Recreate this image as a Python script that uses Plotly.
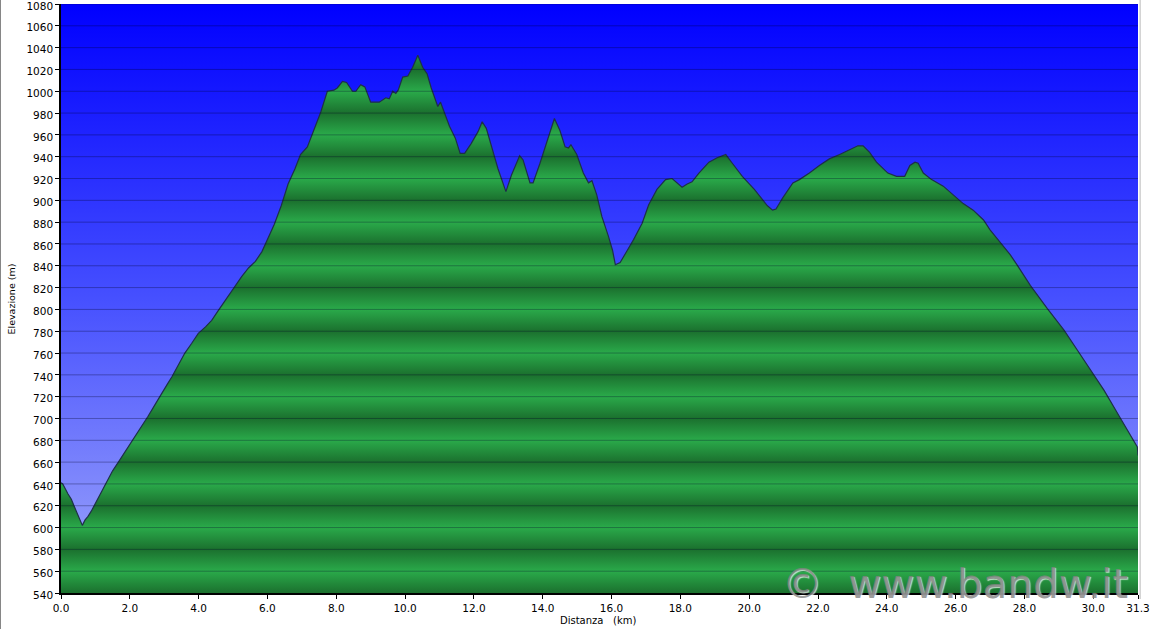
import plotly.graph_objects as go

# ---- data ----
KM = [0.0, 0.05, 0.2, 0.3, 0.39, 0.5, 0.62, 0.7, 0.78, 0.88, 0.98, 1.12, 1.25, 1.37, 1.5,
      1.71, 1.9, 2.15, 2.35, 2.53, 2.72, 2.92, 3.1, 3.22, 3.4, 3.6, 3.8, 3.99, 4.2, 4.38,
      4.55, 4.68, 4.9, 5.06, 5.25, 5.45, 5.65, 5.84, 6.04, 6.2, 6.4, 6.6, 6.8, 6.96, 7.16,
      7.35, 7.55, 7.74, 7.93, 8.03, 8.18, 8.3, 8.47, 8.57, 8.71, 8.83, 9.0, 9.25, 9.44,
      9.54, 9.64, 9.73, 9.8, 9.93, 10.08, 10.22, 10.37, 10.51, 10.64, 10.76, 10.85, 10.95,
      11.03, 11.13, 11.29, 11.46, 11.6, 11.73, 11.92, 12.12, 12.24, 12.36, 12.51, 12.7,
      12.93, 13.09, 13.33, 13.43, 13.63, 13.72, 13.92, 14.16, 14.34, 14.5, 14.65, 14.75,
      14.82, 14.99, 15.18, 15.33, 15.43, 15.57, 15.72, 15.91, 16.03, 16.11, 16.25, 16.4,
      16.64, 16.89, 17.08, 17.32, 17.57, 17.76, 18.05, 18.2, 18.34, 18.54, 18.83, 19.07,
      19.32, 19.51, 19.8, 20.15, 20.34, 20.53, 20.68, 20.78, 20.97, 21.27, 21.46, 21.75,
      22.04, 22.33, 22.63, 22.92, 23.16, 23.31, 23.5, 23.7, 23.89, 24.03, 24.28, 24.52,
      24.67, 24.82, 24.91, 25.06, 25.3, 25.64, 25.93, 26.22, 26.51, 26.81, 27.0, 27.3,
      27.59, 27.78, 28.17, 28.66, 29.15, 29.53, 29.92, 30.31, 30.7, 31.0, 31.28, 31.3]
ELEV = [641, 640, 631, 626, 619, 610, 602, 607, 610, 615, 621, 630, 638, 645, 652,
        662, 671, 683, 693, 702, 712, 723, 732, 738, 749, 760, 769, 778, 784, 790,
        798, 804, 814, 821, 830, 838, 844, 853, 867, 878, 895, 915, 929, 942, 949,
        964, 981, 1000, 1001, 1003, 1009, 1008, 1000, 1000, 1006, 1004, 990, 990, 994,
        993, 1000, 998, 1001, 1013, 1014, 1022, 1033, 1022, 1016, 1003, 994, 986,
        990, 981, 968, 957, 943, 943, 952, 963, 972, 966, 949, 929,
        908, 923, 941, 937, 916, 916, 934, 958, 975, 964, 949, 948,
        951, 942, 925, 916, 918, 905, 885, 867, 854, 841, 843, 851,
        864, 879, 896, 910, 919, 920, 912, 915, 917, 925, 935, 939,
        942, 934, 922, 910, 903, 895, 891, 892, 902, 916, 919, 925,
        932, 938, 942, 946, 950, 950, 944, 935, 929, 925, 922, 922,
        932, 935, 934, 925, 919, 913, 905, 897, 891, 882, 873, 861,
        850, 841, 822, 801, 781, 763, 744, 726, 705, 689, 674, 666]

X_RANGE = [0.0, 31.3]
Y_RANGE = [540, 1080]
X_TICKS = [0, 2, 4, 6, 8, 10, 12, 14, 16, 18, 20, 22, 24, 26, 28, 30, 31.3]
X_TICKTEXT = ["0.0", "2.0", "4.0", "6.0", "8.0", "10.0", "12.0", "14.0", "16.0", "18.0",
              "20.0", "22.0", "24.0", "26.0", "28.0", "30.0", "31.3"]
Y_TICKS = list(range(540, 1081, 20))
X_TITLE = "Distanza\u00a0\u00a0\u00a0(km)"
Y_TITLE = "Elevazione (m)"
WATERMARK = "©\u00a0\u00a0www.bandw.it"

FONT = "DejaVu Sans, Verdana, sans-serif"

# striped green colorscale (period 40 m: dark / light alternating on grid lines)
DARK = "rgb(27,112,46)"
LIGHT = "rgb(42,170,74)"
span = Y_RANGE[1] - Y_RANGE[0]
green_scale = []
for t in Y_TICKS:
    c = DARK if ((t - Y_RANGE[0]) // 20) % 2 == 0 else LIGHT
    green_scale.append([(t - Y_RANGE[0]) / span, c])

fig = go.Figure()

# sky background gradient
fig.add_trace(go.Scatter(
    x=X_RANGE, y=[Y_RANGE[1], Y_RANGE[1]], mode="lines", line=dict(width=0),
    fill="tozeroy",
    fillgradient=dict(type="vertical", start=Y_RANGE[0], stop=Y_RANGE[1],
                      colorscale=[[0, "rgb(160,168,250)"], [0.5, "rgb(70,80,255)"], [1, "rgb(0,0,255)"]]),
    hoverinfo="skip", showlegend=False))

# elevation profile
fig.add_trace(go.Scatter(
    x=KM, y=ELEV, mode="lines", line=dict(color="#1e3048", width=1.2),
    fill="tozeroy",
    fillgradient=dict(type="vertical", start=Y_RANGE[0], stop=Y_RANGE[1], colorscale=green_scale),
    showlegend=False))

shapes = []
for t in Y_TICKS[1:]:
    shapes.append(dict(type="line", xref="paper", x0=0, x1=1, yref="y", y0=t, y1=t,
                       line=dict(color="rgba(0,0,40,0.32)", width=1), layer="above"))
# window frame lines
shapes.append(dict(type="line", xref="paper", x0=-0.0566, x1=-0.0566, yref="paper", y0=-0.07, y1=1.01,
                   line=dict(color="#666", width=1.5)))
shapes.append(dict(type="line", xref="paper", x0=1.002, x1=1.002, yref="paper", y0=-0.01, y1=1.007,
                   line=dict(color="#d0d0d0", width=1.5)))

fig.update_layout(
    width=1152, height=629,
    margin=dict(l=61, r=14, t=4, b=36, autoexpand=False),
    paper_bgcolor="white", plot_bgcolor="rgb(0,0,255)",
    font=dict(family=FONT, size=10, color="black"),
    shapes=shapes,
    xaxis=dict(range=X_RANGE, tickvals=X_TICKS, ticktext=X_TICKTEXT, showgrid=False,
               zeroline=False, showline=True, linecolor="black", linewidth=2,
               ticks="outside", ticklen=4, tickcolor="black", tickfont=dict(size=10.5),
               automargin=False, layer="above traces", ticklabeloverflow="allow"),
    yaxis=dict(range=Y_RANGE, tickvals=Y_TICKS, showgrid=False, zeroline=False,
               showline=True, linecolor="black", linewidth=1.5,
               ticks="outside", ticklen=4, tickcolor="black", tickfont=dict(size=10.5),
               ticklabelshift=2,
               automargin=False, layer="above traces", ticklabeloverflow="allow"),
    annotations=[
        dict(text=WATERMARK, xref="paper", yref="paper",
             x=0.83, y=0.016, xanchor="center", yanchor="middle", showarrow=False,
             font=dict(family=FONT, size=40.5, color="rgba(130,130,130,0.8)",
                       shadow="1px 1px 1px rgba(255,255,255,0.9)")),
        dict(text=X_TITLE, xref="paper", yref="paper", x=0.499, y=-0.0475,
             xanchor="center", yanchor="middle", showarrow=False, font=dict(size=10)),
        dict(text=Y_TITLE, xref="paper", yref="paper", x=-0.0455, y=0.5, textangle=-90,
             xanchor="center", yanchor="middle", showarrow=False, font=dict(size=9.5)),
    ],
)

fig.write_html("out.html", config={"displayModeBar": False},
               post_script="document.body.style.margin='0';document.body.style.overflow='hidden';")
